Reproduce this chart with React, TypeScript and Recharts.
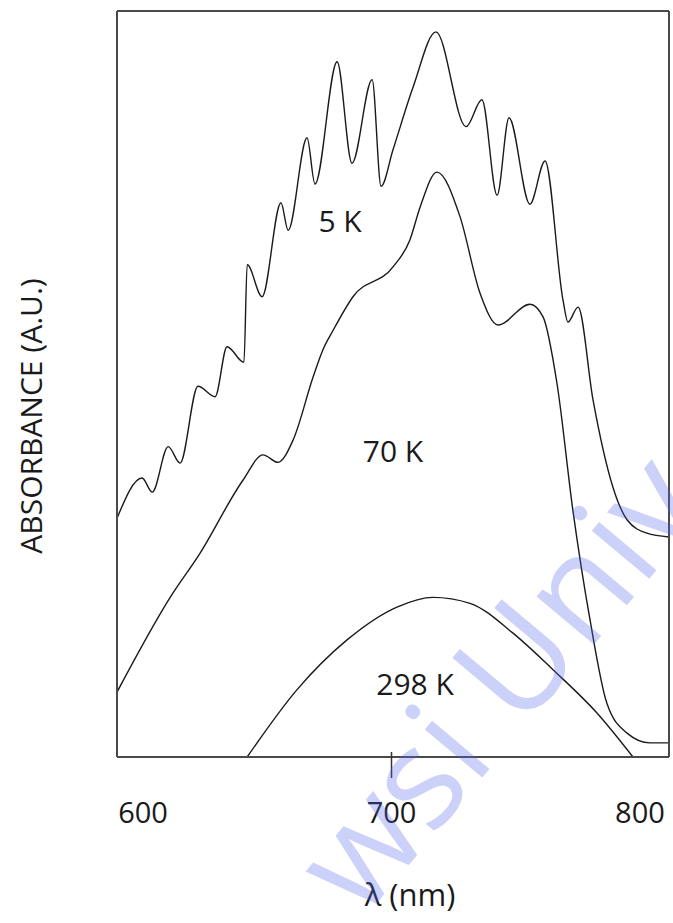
import { LineChart, Line, XAxis, YAxis, ReferenceDot, Label } from 'recharts'

// wavelength (nm) / absorbance (a.u.)
const lambda5K = [589.5, 599.6, 603.7, 610.1, 614.9, 622.1, 629.0, 633.8, 640.6, 641.9, 647.9, 655.5, 658.4, 666.0, 669.2, 678.1, 684.1, 692.2, 695.8, 700.6, 708.7, 717.9, 730.0, 736.4, 742.5, 747.3, 755.7, 761.8, 769.0, 771.0, 775.1, 781.1, 789.1, 794.8, 802.8, 811.7]
const abs5K = [32.0, 37.4, 35.5, 41.6, 39.4, 49.7, 48.3, 55.0, 52.9, 66.0, 61.7, 74.3, 70.6, 83.0, 76.8, 93.2, 79.6, 90.8, 76.5, 81.4, 89.8, 97.2, 84.5, 88.1, 75.3, 85.7, 74.1, 79.9, 61.3, 58.3, 60.3, 47.9, 36.2, 31.8, 30.0, 29.5]

const lambda70K = [589.5, 610.9, 622.9, 640.2, 648.3, 654.3, 660.4, 668.4, 672.4, 676.5, 684.5, 700.6, 707.4, 711.5, 718.3, 727.6, 735.6, 742.9, 755.7, 761.0, 766.6, 773.0, 779.9, 786.7, 794.8, 804.0, 811.7]
const abs70K = [8.7, 21.4, 27.3, 37.1, 40.5, 39.5, 42.5, 50.9, 54.6, 57.2, 61.7, 65.7, 69.3, 73.7, 78.4, 72.4, 62.2, 57.9, 60.7, 59.0, 50.1, 33.1, 18.4, 7.2, 3.2, 1.9, 1.9]

const lambda298K = [641.9, 661.9, 682.1, 702.2, 716.7, 731.6, 748.9, 765.0, 782.7, 797.2]
const abs298K = [0, 9.0, 15.7, 20.1, 21.4, 20.6, 16.6, 11.7, 5.9, 0]

const xTicks = [600, 700, 800]
const curveLabels = ['5 K', '70 K', '298 K']
const labelLambda = [679.3, 700.6, 709.5]
const labelAbs = [71.8, 41.0, 9.8]

const toPoints = (xs: number[], ys: number[]) => xs.map((x, i) => ({ x, y: ys[i] }))

const data5K = toPoints(lambda5K, abs5K)
const data70K = toPoints(lambda70K, abs70K)
const data298K = toPoints(lambda298K, abs298K)

const FONT = '"Open Sans", sans-serif'
const INK = '#1a1a1a'
const FRAME = '#4a4a4a'

function AxisTick(props: any) {
  const { x, y, payload } = props
  return (
    <g>
      {payload.value === 700 && (
        <line x1={x} x2={x} y1={y - 5} y2={y + 21} stroke="#333" strokeWidth={1.5} />
      )}
      <text x={x} y={y + 66} textAnchor="middle" fontFamily={FONT} fontSize={29} fill={INK}>
        {payload.value}
      </text>
    </g>
  )
}

export default function App() {
  return (
    <div style={{ position: 'absolute', left: 0, top: 0, width: 673, height: 923, background: '#fff', overflow: 'hidden' }}>
      <LineChart width={673} height={923} margin={{ top: 10, right: 3, bottom: 136, left: 97 }}>
        <XAxis
          dataKey="x"
          type="number"
          domain={[589.5, 811.7]}
          allowDataOverflow
          ticks={xTicks}
          interval={0}
          height={30}
          tickLine={false}
          tickSize={0}
          tickMargin={0}
          tick={<AxisTick />}
          axisLine={{ stroke: FRAME, strokeWidth: 2 }}
        >
          <Label
            content={(p: any) => {
              const vb = p.viewBox
              return (
                <text x={vb.x + vb.width / 2 + 17} y={vb.y + 149} textAnchor="middle" fontFamily={FONT} fontSize={31} fill={INK}>
                  λ (nm)
                </text>
              )
            }}
          />
        </XAxis>
        <XAxis
          xAxisId="top"
          orientation="top"
          dataKey="x"
          type="number"
          domain={[589.5, 811.7]}
          allowDataOverflow
          height={1}
          tick={false}
          tickLine={false}
          axisLine={{ stroke: FRAME, strokeWidth: 2 }}
        />
        <YAxis
          type="number"
          domain={[0, 100]}
          allowDataOverflow
          width={20}
          tick={false}
          tickLine={false}
          axisLine={{ stroke: FRAME, strokeWidth: 2 }}
        >
          <Label
            content={(p: any) => {
              const vb = p.viewBox
              const cx = vb.x + vb.width - 87
              const cy = vb.y + vb.height / 2 + 32
              return (
                <text x={cx} y={cy} transform={`rotate(-90 ${cx} ${cy})`} textAnchor="middle" dominantBaseline="central" fontFamily={FONT} fontSize={30} fill={INK}>
                  ABSORBANCE (A.U.)
                </text>
              )
            }}
          />
        </YAxis>
        <YAxis
          yAxisId="right"
          orientation="right"
          type="number"
          domain={[0, 100]}
          allowDataOverflow
          width={1}
          tick={false}
          tickLine={false}
          axisLine={{ stroke: FRAME, strokeWidth: 2 }}
        />

        <Line data={data5K} dataKey="y" type="monotone" stroke={INK} strokeWidth={1.4} dot={false} isAnimationActive={false} />
        <Line data={data70K} dataKey="y" type="monotone" stroke={INK} strokeWidth={1.4} dot={false} isAnimationActive={false} />
        <Line data={data298K} dataKey="y" type="monotone" stroke={INK} strokeWidth={1.4} dot={false} isAnimationActive={false} />

        {curveLabels.map((t, i) => (
          <ReferenceDot
            key={t}
            x={labelLambda[i]}
            y={labelAbs[i]}
            r={0}
            fill="none"
            stroke="none"
            label={{ value: t, position: 'center', fontFamily: FONT, fontSize: 30, fill: INK }}
          />
        ))}
      </LineChart>
      <svg width={673} height={923} style={{ position: 'absolute', left: 0, top: 0, pointerEvents: 'none' }}>
        <text
          x={362}
          y={921}
          transform="rotate(-50 362 921)"
          fontFamily={FONT}
          fontSize={140}
          fill="#5566ee"
          fillOpacity={0.3}
        >
          wsi Univ
        </text>
      </svg>
    </div>
  )
}
